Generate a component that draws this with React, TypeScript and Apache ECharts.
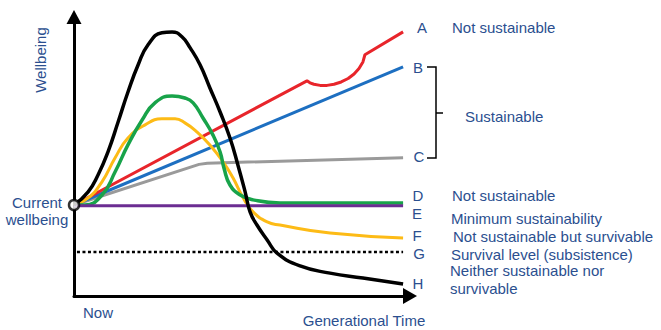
import React, { useEffect, useRef } from "react";
import * as echarts from "echarts";

// Generational time (0 = now, 100 = end of horizon) vs wellbeing (0..100)
const originPoint = [[0, 31.8]];
const seriesA_red = [
  [0, 31.8], [70.8, 75.2], [71.7, 74.5], [72.9, 74.0], [74.8, 73.6], [76.9, 73.6],
  [79.0, 74.0], [81.2, 74.8], [83.3, 76.0], [85.1, 77.6], [86.6, 79.5], [87.8, 81.8],
  [88.4, 84.3], [100, 92.3],
];
const seriesB_blue = [[0, 31.8], [100, 80.1]];
const seriesC_gray = [[0, 31.8], [38.0, 46.0], [40.5, 46.4], [100, 48.3]];
const seriesD_green = [
  [0, 31.8], [3.3, 31.8], [8.5, 35.3], [12.5, 43.4], [16.4, 52.8], [20.7, 61.5],
  [24.6, 67.5], [29.8, 69.9], [33.7, 69.2], [36.2, 67.5], [39.2, 62.2], [42.2, 56.3],
  [44.4, 50.3], [45.6, 44.6], [47.4, 38.8], [50.5, 35.3], [54.4, 33.6], [62.6, 32.5],
  [100, 32.5],
];
const seriesE_purple = [[0, 31.5], [100, 31.5]];
const seriesF_yellow = [
  [0, 31.8], [4.3, 34.3], [8.5, 39.9], [12.5, 48.3], [16.4, 55.2], [21.6, 59.8],
  [26.7, 61.9], [30.7, 61.9], [33.7, 60.5], [37.4, 57.3], [41.3, 52.8], [45.3, 46.9],
  [48.3, 41.3], [51.4, 34.3], [54.4, 29.4], [58.7, 25.9], [62.6, 24.8], [77.8, 22.0],
  [100, 20.3],
];
const seriesG_subsistence = [[0.9, 15.4], [100, 15.4]];
const seriesH_black = [
  [0, 31.8], [4.3, 36.4], [7.3, 42.3], [10.3, 50.3], [13.4, 60.8], [16.4, 71.3],
  [19.5, 80.8], [22.5, 87.8], [26.7, 92.0], [29.8, 92.3], [32.8, 90.6], [35.3, 86.7],
  [38.3, 80.8], [41.3, 72.7], [44.4, 64.3], [47.4, 55.2], [49.8, 45.8], [52.0, 36.4],
  [53.5, 29.4], [55.6, 24.8], [58.7, 19.6], [61.7, 15.0], [68.7, 10.5], [77.8, 8.0],
  [87.8, 6.3], [100, 4.2],
];

const curveLetters = ["A", "B", "C", "D", "E", "F", "G", "H"];
const outcomeLabels = [
  "Not sustainable",
  "Sustainable",
  "Not sustainable",
  "Minimum sustainability",
  "Not sustainable but survivable",
  "Survival level (subsistence)",
  "Neither sustainable nor",
  "survivable",
];
const axisTexts = ["Wellbeing", "Generational Time", "Now", "Current", "wellbeing"];

const TXT = "#2b4f8f";
const FONT = "Liberation Sans, Arial, sans-serif";

export default function App() {
  const ref = useRef<HTMLDivElement>(null);
  useEffect(() => {
    if (!ref.current) return;
    const chart = echarts.init(ref.current, undefined, { renderer: "svg" });
    const line = (data: number[][], color: string, width = 3, smooth: number | boolean = false, z = 2) => ({
      type: "line",
      data,
      smooth,
      symbol: "none",
      z,
      lineStyle: { color, width },
      silent: true,
    });
    const letterPos = [
      [422, 27], [418, 67], [419, 156], [418, 195], [417, 213], [417, 235], [419, 253], [418, 283],
    ];
    const labelPos = [
      [452, 27], [465, 116], [452, 195], [451, 218], [453, 236], [451, 254], [450, 270], [450, 288],
    ];
    const textEl = (text: string, x: number, y: number, align = "left", extra: any = {}) => ({
      type: "text",
      x,
      y,
      ...extra,
      style: { text, fill: TXT, font: `15px ${FONT}`, align, verticalAlign: "middle" },
    });
    chart.setOption({
      animation: false,
      textStyle: { fontFamily: FONT },
      grid: { left: 74, right: 251, top: 17, bottom: 34 },
      xAxis: {
        type: "value",
        min: 0,
        max: 102.1,
        splitLine: { show: false },
        axisTick: { show: false },
        axisLabel: { show: false },
        axisLine: {
          show: true,
          lineStyle: { color: "#000", width: 3 },
          symbol: ["none", "triangle"],
          symbolSize: [16, 14],
        },
      },
      yAxis: {
        type: "value",
        min: 0,
        max: 97.5,
        splitLine: { show: false },
        axisTick: { show: false },
        axisLabel: { show: false },
        axisLine: {
          show: true,
          lineStyle: { color: "#000", width: 3 },
          symbol: ["none", "triangle"],
          symbolSize: [15, 14],
        },
      },
      series: [
        line(seriesC_gray, "#9a9a9a", 3),
        line(seriesB_blue, "#1d6fc1", 3),
        line(seriesA_red, "#e8252b", 3),
        line(seriesF_yellow, "#fdbb16", 3, 0.5),
        line(seriesD_green, "#18a34a", 3.5, 0.5),
        line(seriesE_purple, "#6b2d92", 3),
        {
          type: "line",
          data: seriesG_subsistence,
          symbol: "none",
          silent: true,
          lineStyle: { color: "#000", width: 2.5, type: [3, 2.5] },
        },
        line(seriesH_black, "#000", 3.5, 0.5, 3),
        {
          type: "scatter",
          data: originPoint,
          symbol: "circle",
          symbolSize: 10,
          z: 5,
          silent: true,
          itemStyle: { color: "#fff", borderColor: "#000", borderWidth: 2.5 },
        },
      ],
      graphic: [
        ...curveLetters.map((l, i) => textEl(l, letterPos[i][0], letterPos[i][1], "center")),
        ...outcomeLabels.map((l, i) => textEl(l, labelPos[i][0], labelPos[i][1], "left")),
        textEl(axisTexts[0], 40, 60, "center", { rotation: Math.PI / 2 }),
        textEl(axisTexts[1], 364, 320, "center"),
        textEl(axisTexts[2], 98, 312, "center"),
        textEl(axisTexts[3], 37, 202, "center"),
        textEl(axisTexts[4], 37, 219, "center"),
        {
          type: "polyline",
          shape: { points: [[427, 67], [436, 67], [436, 158], [427, 158]] },
          style: { stroke: "#000", lineWidth: 1.5, fill: null },
        },
        {
          type: "line",
          shape: { x1: 436, y1: 113, x2: 443, y2: 113 },
          style: { stroke: "#000", lineWidth: 1.5 },
        },
      ],
    });
    return () => chart.dispose();
  }, []);
  return (
    <div
      ref={ref}
      style={{ position: "fixed", left: 0, top: 0, width: 661, height: 330, background: "#fff" }}
    />
  );
}
